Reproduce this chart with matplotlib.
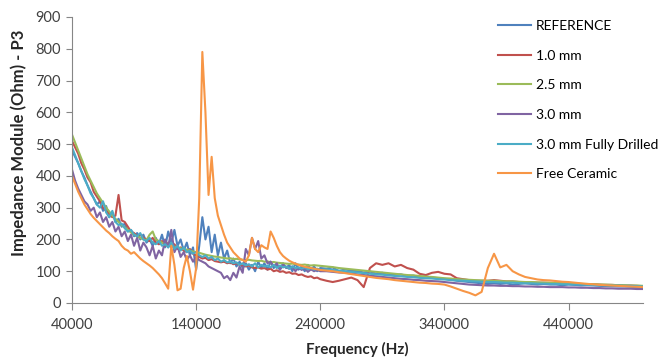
import numpy as np
import matplotlib
matplotlib.use("Agg")
import matplotlib.pyplot as plt

plt.rcParams['font.family'] = ['Lato', 'DejaVu Sans']

# Frequency grid (Hz)
freq = np.concatenate([np.arange(40000, 240001, 2500), np.arange(245000, 500001, 5000)])

series_names = ["REFERENCE", "1.0 mm", "2.5 mm", "3.0 mm", "3.0 mm Fully Drilled", "Free Ceramic"]

reference = [
    480, 460, 440, 415, 395, 370, 350, 330, 310, 320,
    290, 305, 270, 285, 255, 265, 240, 250, 225, 230,
    210, 220, 200, 215, 190, 200, 180, 205, 185, 215,
    175, 225, 190, 230, 180, 200, 165, 190, 150, 175,
    105, 180, 270, 200, 240, 160, 215, 150, 190, 140,
    165, 125, 140, 115, 130, 110, 125, 105, 120, 100,
    130, 110, 125, 105, 130, 110, 120, 105, 125, 110,
    120, 100, 125, 105, 115, 100, 120, 105, 115, 100,
    110,
    108, 112, 100, 106, 102, 100, 96, 99, 92, 95,
    90, 88, 90, 85, 86, 82, 84, 80, 78, 76,
    74, 70, 68, 66, 64, 62, 60, 62, 60, 62,
    58, 60, 62, 60, 58, 60, 58, 58, 56, 58,
    57, 55, 56, 55, 54, 53, 53, 52, 52, 51,
    50, 48,
]

mm_1_0 = [
    510, 490, 470, 440, 420, 395, 380, 350, 335, 320,
    300, 290, 280, 270, 275, 340, 260, 255, 240, 225,
    220, 210, 215, 205, 200, 195, 205, 190, 185, 195,
    180, 190, 175, 185, 170, 175, 165, 160, 170, 155,
    150, 145, 140, 142, 135, 138, 132, 130, 128, 130,
    125, 128, 122, 125, 120, 118, 115, 118, 112, 110,
    112, 108, 110, 105, 108, 100, 103, 98, 100, 95,
    97, 92, 93, 88, 90, 85, 82, 84, 78, 80,
    75,
    70, 66, 70, 75, 80, 72, 50, 110, 125, 120,
    125, 115, 120, 110, 105, 92, 88, 95, 98, 92,
    90, 78, 75, 72, 70, 70, 70, 72, 70, 68,
    68, 66, 66, 65, 64, 64, 63, 63, 62, 62,
    61, 60, 59, 59, 58, 57, 57, 56, 55, 55,
    54, 53,
]

mm_2_5 = [
    530, 505, 480, 455, 430, 405, 385, 365, 345, 330,
    315, 300, 288, 275, 265, 255, 245, 238, 230, 222,
    215, 210, 205, 200, 198, 215, 225, 200, 195, 190,
    185, 188, 180, 178, 175, 172, 170, 168, 165, 162,
    160, 158, 155, 152, 150, 148, 146, 145, 143, 142,
    140, 141, 138, 139, 137, 136, 135, 136, 134, 133,
    132, 133, 130, 131, 128, 129, 127, 126, 125, 124,
    123, 124, 122, 121, 120, 121, 119, 118, 119, 118,
    117,
    115, 113, 110, 108, 106, 104, 102, 100, 98, 96,
    94, 92, 90, 88, 87, 85, 83, 82, 80, 78,
    77, 75, 74, 73, 72, 71, 70, 70, 69, 68,
    68, 67, 66, 66, 65, 64, 64, 63, 62, 62,
    61, 60, 60, 59, 58, 58, 57, 56, 56, 55,
    55, 54,
]

mm_3_0 = [
    420, 385, 360, 340, 320, 310, 290, 300, 270, 285,
    255, 270, 240, 255, 225, 240, 210, 225, 195, 215,
    180, 205, 165, 190, 175, 150, 180, 140, 165, 150,
    200, 175, 230, 160, 180, 145, 160, 135, 150, 130,
    145, 135, 130, 125, 115, 110, 105, 100, 95, 78,
    85, 72, 95, 80, 115, 95, 170, 150, 205, 170,
    195, 140, 150, 125, 130, 115, 125, 105, 120, 112,
    108, 115, 100, 112, 104, 110, 98, 106, 100, 104,
    100,
    100, 98, 96, 95, 93, 90, 88, 86, 84, 82,
    80, 78, 76, 75, 73, 72, 70, 69, 68, 66,
    64, 62, 60, 58, 57, 56, 55, 55, 54, 54,
    53, 53, 52, 52, 51, 51, 50, 50, 50, 49,
    49, 48, 48, 47, 47, 46, 46, 45, 45, 45,
    44, 44,
]

mm_3_0_drilled = [
    490, 465, 440, 415, 390, 370, 345, 330, 310, 300,
    320, 285, 270, 290, 255, 245, 250, 235, 225, 230,
    215, 210, 220, 200, 195, 205, 190, 185, 195, 180,
    185, 175, 190, 170, 180, 165, 175, 160, 165, 155,
    160, 150, 145, 150, 140, 145, 135, 140, 130, 135,
    128, 130, 125, 128, 120, 125, 118, 122, 115, 125,
    112, 120, 115, 118, 112, 120, 110, 118, 112, 115,
    108, 115, 110, 112, 108, 112, 106, 110, 105, 108,
    104,
    106, 104, 102, 100, 98, 96, 94, 92, 90, 89,
    87, 85, 84, 82, 81, 79, 78, 77, 75, 74,
    72, 71, 70, 69, 68, 67, 66, 66, 65, 64,
    64, 63, 62, 62, 61, 61, 60, 60, 59, 59,
    58, 58, 57, 57, 56, 56, 55, 55, 54, 54,
    53, 52,
]

free_ceramic = [
    400, 375, 350, 330, 310, 295, 280, 268, 258, 248,
    238, 228, 220, 210, 202, 195, 180, 170, 165, 155,
    160, 150, 140, 132, 125, 118, 110, 100, 90, 78,
    62, 45, 180, 120, 40, 45, 110, 148, 100, 42,
    110, 330, 790, 600, 340, 460, 330, 275, 245, 215,
    190, 175, 160, 150, 140, 135, 130, 150, 205, 170,
    160, 182, 175, 170, 225, 205, 180, 160, 148, 140,
    133, 128, 124, 120, 117, 114, 112, 110, 108, 106,
    104,
    102, 100, 97, 94, 91, 88, 85, 82, 79, 77,
    75, 72, 70, 68, 66, 64, 63, 61, 60, 58,
    52, 45, 38, 32, 24, 35, 110, 155, 112, 120,
    100, 90, 82, 78, 74, 72, 71, 69, 67, 66,
    64, 62, 60, 59, 57, 56, 55, 54, 53, 52,
    51, 50,
]

colors = ["#4F81BD", "#C0504D", "#9BBB59", "#8064A2", "#4BACC6", "#F79646"]
all_series = [reference, mm_1_0, mm_2_5, mm_3_0, mm_3_0_drilled, free_ceramic]

fig = plt.figure(figsize=(6.67, 3.60), dpi=100)
ax = fig.add_axes([72/667, 57/360, (643-72)/667, (303-17)/360])

for name, vals, c in zip(series_names, all_series, colors):
    ax.plot(freq, vals, color=c, lw=1.5, label=name)

ax.set_xlim(40000, 500000)
ax.set_ylim(0, 900)
ax.set_xticks([40000, 140000, 240000, 340000, 440000])
ax.set_yticks(np.arange(0, 901, 100))
for s in ["top", "right"]:
    ax.spines[s].set_visible(False)
for s in ["left", "bottom"]:
    ax.spines[s].set_color("#868686")
    ax.spines[s].set_linewidth(0.8)
ax.tick_params(axis="both", colors="#868686", labelcolor="#404040", labelsize=10.5, direction="out")
ax.tick_params(axis="x", length=5, pad=6)
ax.tick_params(axis="y", length=4, pad=4)

ax.set_xlabel("Frequency (Hz)", fontsize=11, fontweight="bold", color="#262626")
ax.xaxis.set_label_coords(0.5, -0.135)
ax.set_ylabel("Impedance Module (Ohm) - P3", fontsize=12, fontweight="bold", color="#262626")
ax.yaxis.set_label_coords(-0.078, 0.56)

fig.legend(loc="upper left", bbox_to_anchor=(498/667, 1 - 20/360), frameon=False,
           fontsize=10, handlelength=2.4, handletextpad=0.35, labelspacing=1.27,
           borderpad=0, borderaxespad=0)

fig.savefig("out.png", dpi=100)
